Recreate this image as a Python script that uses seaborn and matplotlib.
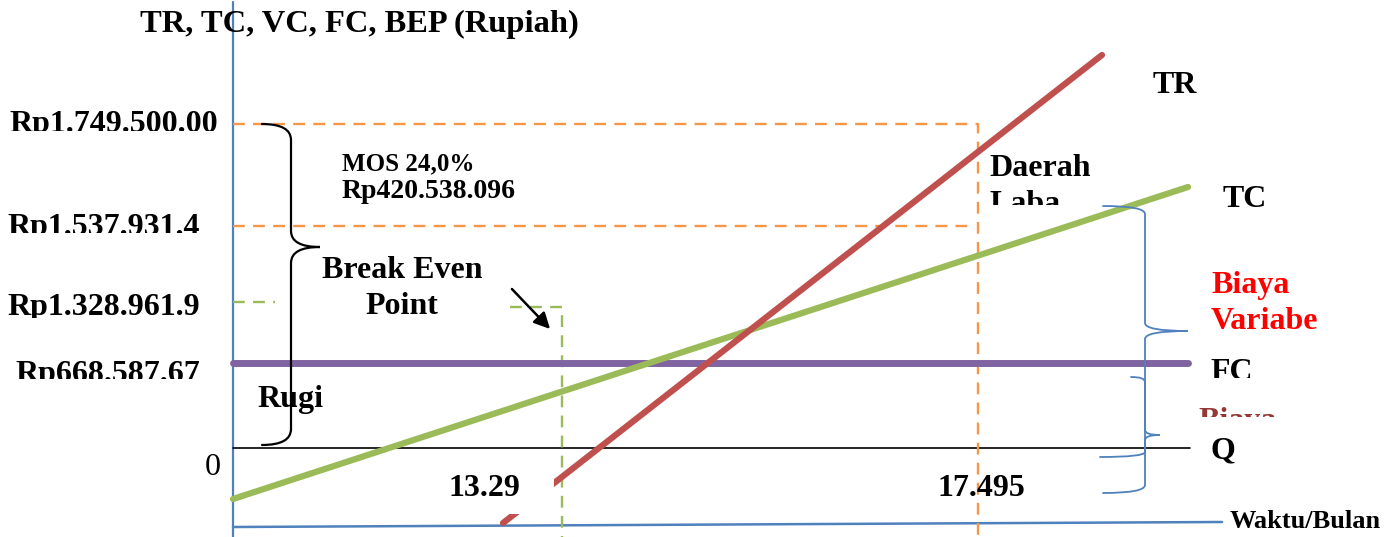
import numpy as np
import pandas as pd
import seaborn as sns
import matplotlib
matplotlib.use("Agg")
import matplotlib.pyplot as plt
from matplotlib.path import Path
from matplotlib.patches import PathPatch, Rectangle
from matplotlib.transforms import Bbox, TransformedBbox

# ---- values shown on the break-even diagram (schematic units, Q axis at y = 0) ----
rupiah_labels = ["Rp1.749.500.00", "Rp1.537.931.4", "Rp1.328.961.9", "Rp668.587.67"]
rupiah_levels = [324, 222, 144, 85]          # diagram heights of the four amounts
month_labels = ["13.29", "17.495"]
month_levels = [329, 745]                    # BEP month and actual month positions

tr_x, tr_y = [270, 869], [-75, 393]          # total revenue
tc_x, tc_y = [0, 955], [-51, 261]            # total cost
fc_x, fc_y = [0, 955], [85, 85]              # fixed cost
q_x, q_y = [0, 957], [0, 0]                  # quantity axis
time_x, time_y = [0, 989], [-79, -74]        # time axis (Waktu/Bulan)

mos_pct = "MOS 24,0%"
mos_value = "Rp420.538.096"

RED, GREEN, PURPLE = "#c0504d", "#9bbb59", "#8064a2"
ORANGE, BLUE = "#f79646", "#4f81bd"

sns.set_style("white")
plt.rcParams["font.family"] = ["Liberation Serif", "DejaVu Serif"]

fig = plt.figure(figsize=(14, 5.37), dpi=100)
ax = fig.add_axes([0, 0, 1, 1])
ax.set_xlim(-233, 1167)
ax.set_ylim(-89, 448)
ax.set_axis_off()


def draw(x, y, color, lw, z=2, dashes=None):
    df = pd.DataFrame({"x": x, "y": y})
    line = sns.lineplot(data=df, x="x", y="y", ax=ax, color=color, lw=lw,
                        sort=False, estimator=None, zorder=z, legend=False)
    if dashes is not None:
        line.lines[-1].set_dashes(dashes)


def label(x, y, s, clip=None, size=23, weight="bold", color="black", **kw):
    # multi-line text is anchored at the baseline of its last line
    t = ax.text(x, y, s, fontsize=size, fontweight=weight, color=color,
                va="baseline", zorder=6, **kw)
    if clip is not None:
        lo, hi = clip
        t.set_clip_box(TransformedBbox(Bbox([[-1e4, lo], [1e4, hi]]), ax.transData))
        t.set_clip_on(True)
    return t


def brace(x_end, x_spine, x_tip, y_top, y_tip, y_bot, color, lw, r=14,
          x_end_bot=None, z=5):
    if x_end_bot is None:
        x_end_bot = x_end
    verts = [(x_end, y_top), (x_spine, y_top), (x_spine, y_top - r),
             (x_spine, y_tip + r),
             (x_spine, y_tip), (x_tip, y_tip),
             (x_spine, y_tip), (x_spine, y_tip - r),
             (x_spine, y_bot + r),
             (x_spine, y_bot), (x_end_bot, y_bot)]
    codes = [Path.MOVETO, Path.CURVE3, Path.CURVE3, Path.LINETO,
             Path.CURVE3, Path.CURVE3, Path.CURVE3, Path.CURVE3,
             Path.LINETO, Path.CURVE3, Path.CURVE3]
    ax.add_patch(PathPatch(Path(verts, codes), fill=False, edgecolor=color,
                           lw=lw, zorder=z, capstyle="round"))


# axes of the diagram
draw([0, 0], [-89, 446], BLUE, 1.6, z=1)
draw(time_x, time_y, BLUE, 1.8, z=1)
draw(q_x, q_y, "black", 1.2, z=1)

# guide lines for MOS and BEP
dash = (5, 3.5)
draw([0, month_levels[1], month_levels[1]], [rupiah_levels[0], rupiah_levels[0], -89],
     ORANGE, 1.7, z=1, dashes=dash)
draw([0, month_levels[1] - 3], [rupiah_levels[1], rupiah_levels[1]], ORANGE, 1.7, z=1, dashes=dash)
draw([0, 42], [rupiah_levels[2] + 2, rupiah_levels[2] + 2], GREEN, 1.7, z=1, dashes=dash)
draw([277, month_levels[0], month_levels[0]], [rupiah_levels[2] - 3, rupiah_levels[2] - 3, -89],
     GREEN, 1.7, z=1, dashes=dash)

# cost and revenue lines
draw(fc_x, fc_y, PURPLE, 5.0)
draw(tc_x, tc_y, GREEN, 4.5)
draw(tr_x, tr_y, RED, 4.5)

# amount labels on the vertical axis
label(-15, 316, rupiah_labels[0], clip=(317, 448), ha="right")
label(-33, 213, rupiah_labels[1], clip=(215, 448), ha="right")
label(-33, 133, rupiah_labels[2], clip=(130, 448), ha="right")
label(-33, 66, rupiah_labels[3], clip=(69, 448), ha="right")
label(-20, -27, "0", weight="normal", ha="center")

# month labels under the Q axis
ax.add_patch(Rectangle((192, -66), 129, 44, facecolor="white", edgecolor="none", zorder=4))
label(251, -48, month_labels[0], ha="center")
label(748, -48, month_labels[1], ha="center")

# annotations
label(109, 278, mos_pct, size=18)
label(109, 250, mos_value, size=20)
label(169, 134, "Break Even\nPoint", ha="center", linespacing=1.33)
ax.annotate("", xy=(319, 117), xytext=(277, 161),
            arrowprops=dict(arrowstyle="-|>", color="black", lw=1.8,
                            mutation_scale=24), zorder=6)
label(24, 41, "Rugi")
label(756, 236, "Daerah\nLaba", clip=(243, 448), linespacing=1.33)

# line names on the right
label(920, 355, "TR")
label(990, 241, "TC")
label(978, 119, "Biaya\nVariabe", color="#ff0000", linespacing=1.33)
label(977, 68, "FC", clip=(70, 448))
label(965, 19, "Biaya", color="#953735", clip=(31, 43))
label(978, -10, "Q")
label(997, -80, "Waktu/Bulan", size=19)

# title of the value axis
label(126, 416, "TR, TC, VC, FC, BEP (Rupiah)", size=23.4, ha="center")

# braces
brace(29, 58, 87, 324, 201, 3, "black", 1.6, r=16)
brace(870, 912, 955, 242, 117, -45, BLUE, 1.3, r=8)
brace(898, 912, 927, 71, 13, -9, BLUE, 1.3, r=5, x_end_bot=867)

fig.savefig("out.png", dpi=100)
